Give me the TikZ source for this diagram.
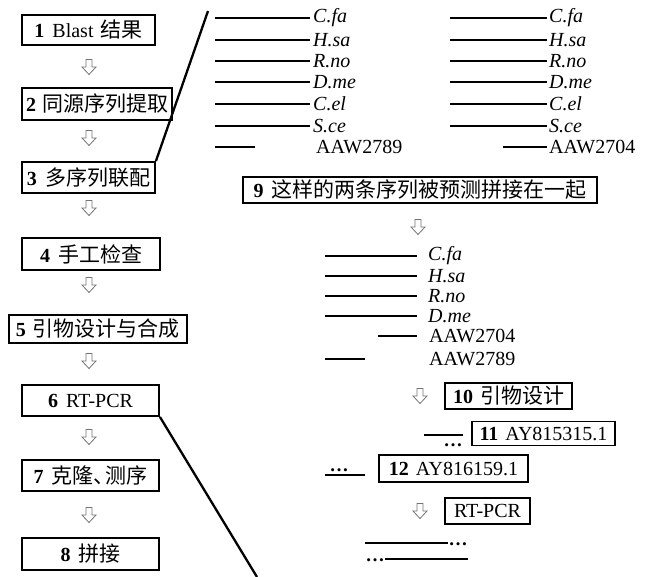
\documentclass[tikz,border=0pt]{standalone}
\usepackage{fontspec}
\setmainfont{Liberation Serif}
\newfontfamily\cjkfont{Noto Sans CJK SC}
\newcommand\zhtext[1]{{\cjkfont\fontsize{21}{24}\selectfont #1}}
\tikzset{
  box/.style={draw, line width=1.9pt, inner sep=0pt, align=center},
  seq/.style={line width=2.2pt},
  lab/.style={anchor=west, inner sep=0pt},
  dotsl/.style={anchor=base, inner sep=0pt, font=\fontsize{19}{19}\selectfont\bfseries},
  harrow/.pic={\draw[black!55, line width=0.8pt, line join=miter, fill=white]
     (-3,-7.5) -- (3,-7.5) -- (3,0) -- (7,0) -- (0,7.5) -- (-7,0) -- (-3,0) -- cycle;}
}
\begin{document}
\begin{tikzpicture}[x=1pt,y=-1pt, font=\fontsize{20}{24}\selectfont]
\useasboundingbox (0,0) rectangle (655,576);

% left column
\node[box, minimum width=133pt, minimum height=30pt] (b1) at (88.5,30) {\textbf{1}\hspace{8pt}Blast\hspace{7pt}\zhtext{结果}};
\node[box, minimum width=150pt, minimum height=32pt] (b2) at (97,104) {\textbf{2}\hspace{6pt}\zhtext{同源序列提取}};
\node[box, minimum width=133pt, minimum height=31pt] (b3) at (88.5,177.5) {\textbf{3}\hspace{8pt}\zhtext{多序列联配}};
\node[box, minimum width=138pt, minimum height=32pt] (b4) at (91,254) {\textbf{4}\hspace{8pt}\zhtext{手工检查}};
\node[box, minimum width=178pt, minimum height=28pt] (b5) at (98,329) {\textbf{5}\hspace{7pt}\zhtext{引物设计与合成}};
\node[box, minimum width=137pt, minimum height=31pt] (b6) at (90.5,400.5) {\textbf{6}\hspace{8pt}RT-PCR};
\node[box, minimum width=137pt, minimum height=31pt] (b7) at (90.5,475.5) {\textbf{7}\hspace{8pt}\zhtext{克隆、\kern-0.45em 测序}};
\node[box, minimum width=137pt, minimum height=32pt] (b8) at (90.5,554) {\textbf{8}\hspace{8pt}\zhtext{拼接}};

\foreach \yy in {67,138,208,285,361,437,515} { \pic at (89,\yy) {harrow}; }

% diagonals
\coordinate (dtop) at (208,11);
\coordinate (dbot) at (257,577);
\draw[line width=2.3pt] (b3.north east) -- (dtop);
\draw[line width=2.3pt] (b6.south east) -- (dbot);

% top-left sequence group
\foreach \yy/\nm in {18/C.fa,40/H.sa,61/R.no,82/D.me,104/C.el,126/S.ce} {
  \draw[seq] (215,\yy) -- (310,\yy);
  \node[lab] at (313,\yy) {\textit{\nm}};
}
\draw[seq] (215,147) -- (255,147);
\node[lab] at (316,147) {AAW2789};

% top-right sequence group
\foreach \yy/\nm in {18/C.fa,40/H.sa,61/R.no,82/D.me,104/C.el,126/S.ce} {
  \draw[seq] (450,\yy) -- (547,\yy);
  \node[lab] at (549,\yy) {\textit{\nm}};
}
\draw[seq] (503,147) -- (547,147);
\node[lab] at (549,147) {AAW2704};

% box 9
\node[box, minimum width=354pt, minimum height=26pt] (b9) at (420,190) {\textbf{9}\hspace{8pt}\zhtext{这样的两条序列被预测拼接在一起}};
\pic at (418,227) {harrow};

% middle group
\foreach \yy/\nm in {256/C.fa,276/H.sa,296/R.no,316/D.me} {
  \draw[seq] (325,\yy) -- (417,\yy);
  \node[lab] at (428,\yy) {\textit{\nm}};
}
\draw[seq] (378,336) -- (417,336);
\node[lab] at (429,336) {AAW2704};
\draw[seq] (325,359) -- (365,359);
\node[lab] at (429,359) {AAW2789};

% primer design
\pic at (420,396) {harrow};
\node[box, minimum width=127pt, minimum height=26pt] (b10) at (508.5,396) {\textbf{10}\hspace{7pt}\zhtext{引物设计}};

\draw[seq] (424,435) -- (463,435);
\node[dotsl] (d11) at (453,446) {…};
\node[box, minimum width=143pt, minimum height=24pt] (b11) at (543.5,433.5) {\textbf{11}\hspace{7pt}AY815315.1};

\draw[seq] (325,475) -- (365,475);
\node[dotsl] (d12) at (339,471) {…};
\node[box, minimum width=149pt, minimum height=27pt] (b12) at (453.5,468.5) {\textbf{12}\hspace{7pt}AY816159.1};

\pic at (420,511) {harrow};
\node[box, minimum width=85pt, minimum height=26pt] (b13) at (487.5,511) {RT-PCR};

% final
\draw[seq] (365,543) -- (448,543);
\node[dotsl] (d13) at (458,545) {…};
\node[dotsl] (d14) at (375,561) {…};
\draw[seq] (385,559) -- (468,559);
\end{tikzpicture}
\end{document}
